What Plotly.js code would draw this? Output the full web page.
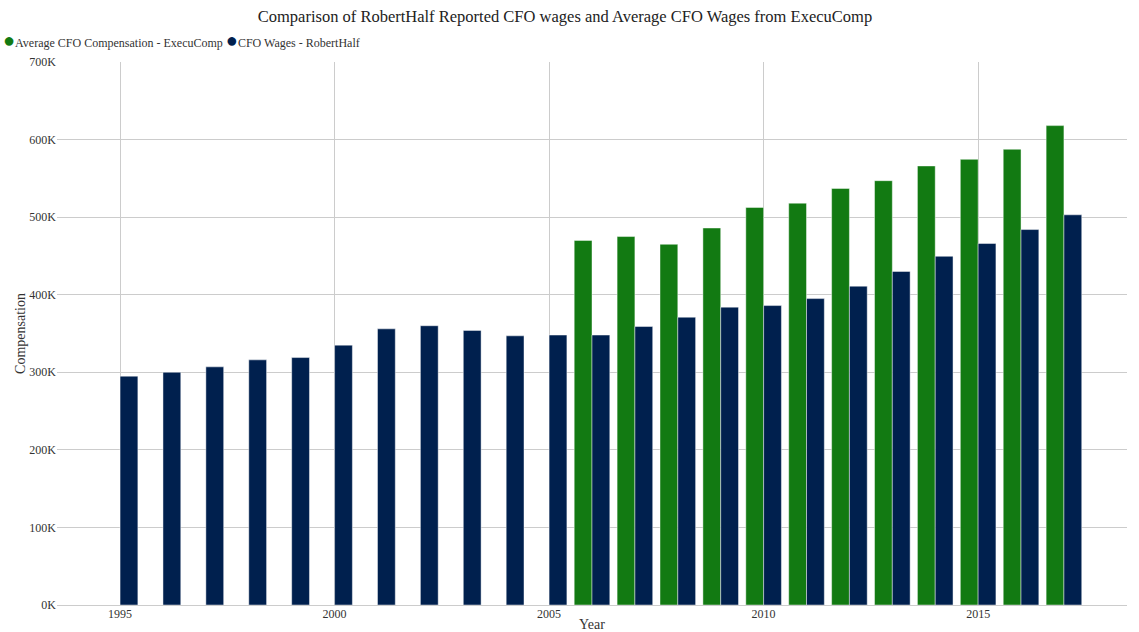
<!DOCTYPE html>
<html>
<head>
<meta charset="utf-8">
<script src="https://cdn.plot.ly/plotly-3.0.1.min.js"></script>
<style>html,body{margin:0;padding:0;background:#fff;}#chart{width:1139px;height:632px;}</style>
</head>
<body>
<div id="chart"></div>
<script>
const execuYears = [2006, 2007, 2008, 2009, 2010, 2011, 2012, 2013, 2014, 2015, 2016, 2017];
const execuValues = [470000, 475000, 465000, 486000, 512500, 518000, 537000, 547000, 566000, 574500, 587500, 618000];

const rhYears = [1995, 1996, 1997, 1998, 1999, 2000, 2001, 2002, 2003, 2004, 2005, 2006, 2007, 2008, 2009, 2010, 2011, 2012, 2013, 2014, 2015, 2016, 2017];
const rhValues = [295000, 300000, 307000, 316000, 319000, 335000, 356000, 360000, 354000, 347000, 348000, 348000, 359000, 371000, 384000, 386000, 395000, 411000, 430000, 449500, 466000, 484000, 503000];

const yTickVals = [0, 100000, 200000, 300000, 400000, 500000, 600000, 700000];
const yTickText = ['0K', '100K', '200K', '300K', '400K', '500K', '600K', '700K'];

const seriesNames = ['Average CFO Compensation - ExecuComp', 'CFO Wages - RobertHalf'];
const seriesColors = ['#127a12', '#00204e'];

const serif = '"Liberation Serif"';

const traces = [
  {type: 'bar', x: execuYears, y: execuValues, name: seriesNames[0], showlegend: false,
   marker: {color: seriesColors[0], line: {color: 'rgba(255,255,255,0.45)', width: 1}}},
  {type: 'bar', x: rhYears, y: rhValues, name: seriesNames[1], showlegend: false,
   marker: {color: seriesColors[1], line: {color: 'rgba(255,255,255,0.45)', width: 1}}}
];

const legendText = '<span style="color:' + seriesColors[0] + ';font-size:20px">●</span>' + seriesNames[0] +
  ' <span style="color:' + seriesColors[1] + ';font-size:20px">●</span>' + seriesNames[1];

const layout = {
  width: 1139, height: 632,
  margin: {l: 57, r: 12, t: 62, b: 27},
  paper_bgcolor: '#fff', plot_bgcolor: '#fff',
  barmode: 'group', bargap: 0.17, bargroupgap: 0,
  font: {family: serif, size: 12, color: '#333'},
  title: {text: 'Comparison of RobertHalf Reported CFO wages and Average CFO Wages from ExecuComp',
          font: {family: serif, size: 16.5, color: '#222'}, x: 0.496, xanchor: 'center', y: 0.975, yanchor: 'middle'},
  showlegend: false,
  annotations: [
    {text: legendText, xref: 'paper', yref: 'paper', x: -0.052, xanchor: 'left', y: 1.041, yanchor: 'middle',
     showarrow: false, font: {family: serif, size: 12, color: '#333'}}
  ],
  xaxis: {
    range: [1993.53, 2018.47], tickmode: 'linear', tick0: 1995, dtick: 5,
    showgrid: true, gridcolor: '#cccccc', gridwidth: 1, zeroline: false,
    showline: false, ticks: '', tickfont: {family: serif, size: 12, color: '#333'},
    title: {text: 'Year', font: {family: serif, size: 14, color: '#333'}, standoff: 10}
  },
  yaxis: {
    range: [0, 700000], tickvals: yTickVals, ticktext: yTickText,
    showgrid: true, gridcolor: '#cccccc', gridwidth: 1, zeroline: true, zerolinecolor: '#cccccc', zerolinewidth: 1,
    showline: false, ticks: '', tickfont: {family: serif, size: 12, color: '#333'},
    title: {text: 'Compensation', font: {family: serif, size: 14, color: '#333'}, standoff: 0}
  }
};

Plotly.newPlot('chart', traces, layout, {displayModeBar: false, staticPlot: true});
</script>
</body>
</html>
